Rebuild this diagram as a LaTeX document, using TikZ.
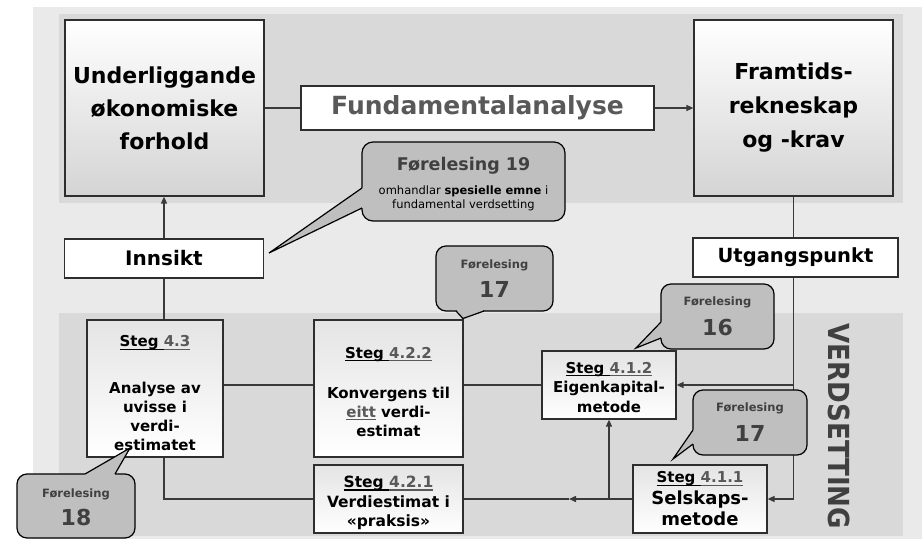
\documentclass[tikz,border=0pt]{standalone}
\usepackage{fontspec}
\setmainfont{DejaVu Sans}
\usetikzlibrary{arrows.meta}

\definecolor{bgouter}{HTML}{EAEAEA}
\definecolor{panel}{HTML}{D9D9D9}
\definecolor{boxline}{HTML}{2E2E2E}
\definecolor{linecol}{HTML}{3A3A3A}
\definecolor{shadetop}{HTML}{D4D4D4}
\definecolor{shadebot}{HTML}{E4E4E4}
\definecolor{bubblefill}{HTML}{BFBFBF}
\definecolor{lectgray}{HTML}{404040}
\definecolor{numgray}{HTML}{595959}

% underline drawn as a rule of fixed depth and thickness
\newcommand\ulbox[1]{\setbox0\hbox{#1}\rlap{\rule[-3pt]{\wd0}{1.4pt}}\box0}
\newcommand\stegline[1]{\ulbox{Steg\ }\textcolor{numgray}{\ulbox{#1}}}
% strut that lifts the first line of a text block
\newcommand\topstrut[1]{\rule{0pt}{#1}}

\begin{document}
\begin{tikzpicture}[x=1pt,y=-1pt,
  box/.style={draw=boxline, line width=1.2pt, inner sep=0pt, align=center, text=black},
  % the y axis points down here, so the shading colours are given flipped
  topshade/.style={top color=white, bottom color=shadetop},
  stegshade/.style={top color=shadebot, bottom color=white},
  conn/.style={draw=linecol, line width=1.4pt},
  arr/.style={-{Triangle[length=7pt,width=6pt]}},
  bubble/.style={fill=bubblefill, draw=black, line width=1.2pt, rounded corners=11pt},
  bubbletip/.style={draw=black, line width=1.2pt},
  lect/.style={text=lectgray, inner sep=0pt, align=center},
]
% backgrounds
\useasboundingbox (0,0) rectangle (922,539);
\fill[white] (0,0) rectangle (922,539);
\fill[bgouter] (33,7) rectangle (922,539);
\fill[panel] (59,14) rectangle (903,203);
\fill[panel] (59,313) rectangle (903,536);

% top row
\node[box, topshade, minimum width=199pt, minimum height=176pt,
      font=\fontsize{22}{33}\selectfont\bfseries] (und) at (164.5,108)
  {Underliggande\\økonomiske\\forhold};
\node[box, fill=white, minimum width=353pt, minimum height=44pt,
      font=\fontsize{25}{28}\selectfont\bfseries, text=numgray] (fund) at (477.5,108)
  {Fundamentalanalyse};
\node[box, topshade, minimum width=199pt, minimum height=176pt,
      font=\fontsize{22}{34}\selectfont\bfseries] (fram) at (793.5,108)
  {Framtids-\\rekneskap\\og -krav};

% middle row
\node[box, fill=white, minimum width=199pt, minimum height=39pt,
      font=\fontsize{20}{24}\selectfont\bfseries] (innsikt) at (164,258.5) {Innsikt};
\node[box, fill=white, minimum width=205pt, minimum height=39pt,
      font=\fontsize{19.5}{24}\selectfont\bfseries] (utg) at (795.5,257.5) {Utgangspunkt};

% valuation steps
\node[box, stegshade, minimum width=136pt, minimum height=137pt,
      font=\fontsize{15}{19}\selectfont\bfseries] (s43) at (155,388.5)
  {\topstrut{21pt}\stegline{4.3}\\[28pt]Analyse av\\uvisse i\\verdi-\\estimatet};
\node[box, stegshade, minimum width=149pt, minimum height=137pt,
      font=\fontsize{15}{19}\selectfont\bfseries] (s422) at (388.5,388.5)
  {\topstrut{18pt}\stegline{4.2.2}\\[21pt]Konvergens til\\\textcolor{numgray}{\ulbox{eitt}} verdi-\\estimat};
\node[box, stegshade, minimum width=149pt, minimum height=68pt,
      font=\fontsize{15.5}{19.5}\selectfont\bfseries] (s421) at (388.5,499)
  {\topstrut{20pt}\stegline{4.2.1}\\Verdiestimat i\\«praksis»};
\node[box, stegshade, minimum width=134pt, minimum height=68pt,
      font=\fontsize{15}{19.5}\selectfont\bfseries] (s412) at (609,385)
  {\topstrut{16pt}\stegline{4.1.2}\\Eigenkapital-\\metode};
\node[box, stegshade, minimum width=134pt, minimum height=68pt,
      font=\fontsize{15}{21.5}\selectfont\bfseries] (s411) at (700,499)
  {\stegline{4.1.1}\\{\fontsize{18}{22}\selectfont Selskaps-}\\{\fontsize{18}{22}\selectfont metode}};

% connectors
\draw[conn] (und.east) -- (fund.west);
\draw[conn, arr] (fund.east) -- (fram.west);
\draw[conn, arr] (innsikt.north) -- (innsikt.north |- und.south);
\draw[conn] (fram.south) -- (fram.south |- utg.north);
\draw[conn] (innsikt.south) -- (innsikt.south |- s43.north);
\draw[conn] (innsikt.south |- s43.south) |- (s421.west);
\draw[conn] (s43.east |- s412.west) -- (s422.west |- s412.west);
\draw[conn] (s422.east |- s412.west) -- (s412.west);
\draw[conn, arr] (fram.south |- utg.south) |- (s411.east);
\draw[conn, arr] (fram.south |- s412.east) -- (s412.east);
\coordinate (mid) at (569,499);
\draw[conn, arr] (s411.west) -- (mid);
\draw[conn] (mid) -- (s421.east);
\draw[conn, arr] (s412.south |- s411.west) -- (s412.south);

% lecture bubbles
% Forelesing 19
\filldraw[bubble] (362,142) rectangle (565,221);
\fill[bubblefill] (370,186) -- (362,188) -- (269,253) -- (362,208) -- (370,210) -- cycle;
\draw[bubbletip] (362,188) -- (269,253) -- (362,208);
\node[lect, font=\fontsize{17.5}{20}\selectfont\bfseries] (l19t) at (463.5,166) {Førelesing 19};
\node[lect, text=black, font=\fontsize{11.5}{14.5}\selectfont] (l19s) at (463.5,198.5)
  {omhandlar \textbf{spesielle emne} i\\fundamental verdsetting};

% Forelesing 17 (middle)
\filldraw[bubble, rounded corners=10pt] (436,246) rectangle (553,311);
\fill[bubblefill] (457,304) -- (457,311) -- (463,318.5) -- (483,311) -- (483,304) -- cycle;
\draw[bubbletip] (456,311) -- (463,318.5) -- (484,311);
\node[lect, font=\fontsize{11.5}{14}\selectfont\bfseries] (l17at) at (494.5,265) {Førelesing};
\node[lect, font=\fontsize{22}{24}\selectfont\bfseries] (l17an) at (494.5,289) {17};

% Forelesing 16
\filldraw[bubble, rounded corners=10pt] (661,284) rectangle (774,349);
\fill[bubblefill] (668,320) -- (661,322) -- (636,348) -- (661,338) -- (668,338) -- cycle;
\draw[bubbletip] (661,322) -- (636,348) -- (661,338);
\node[lect, font=\fontsize{11.5}{14}\selectfont\bfseries] (l16t) at (717.5,302) {Førelesing};
\node[lect, font=\fontsize{22}{24}\selectfont\bfseries] (l16n) at (717.5,327) {16};

% Forelesing 17 (right)
\filldraw[bubble, rounded corners=10pt] (693,390) rectangle (807,455);
\fill[bubblefill] (700,428) -- (693,430) -- (673,459) -- (693,444) -- (700,444) -- cycle;
\draw[bubbletip] (693,430) -- (673,459) -- (693,444);
\node[lect, font=\fontsize{11.5}{14}\selectfont\bfseries] (l17bt) at (750,408) {Førelesing};
\node[lect, font=\fontsize{22}{24}\selectfont\bfseries] (l17bn) at (750,433) {17};

% Forelesing 18
\filldraw[bubble, rounded corners=10pt] (17,474) rectangle (135,538);
\fill[bubblefill] (83,481) -- (85,474) -- (130,448) -- (115,474) -- (117,481) -- cycle;
\draw[bubbletip] (85,474) -- (130,448) -- (115,474);
\node[lect, font=\fontsize{11.5}{14}\selectfont\bfseries] (l18t) at (76,494) {Førelesing};
\node[lect, font=\fontsize{22}{24}\selectfont\bfseries] (l18n) at (76,517) {18};

% side label
\node[lect, rotate=-90, font=\fontsize{29}{30}\selectfont\bfseries] (verd) at (839,426.5)
  {\scalebox{0.9}[1]{VERDSETTING}};
\end{tikzpicture}
\end{document}
